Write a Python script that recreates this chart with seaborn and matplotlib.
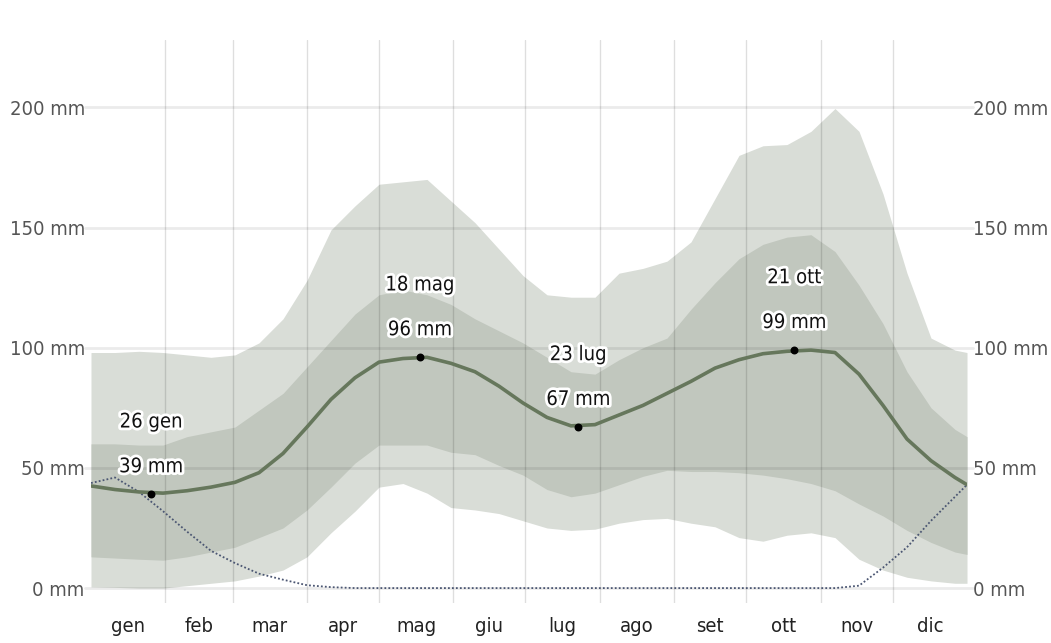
import numpy as np
import pandas as pd
import matplotlib
matplotlib.use("Agg")
import matplotlib.pyplot as plt
import matplotlib.patheffects as pe
from matplotlib import font_manager as fm
import seaborn as sns

# day of year for each reading
days = [0, 10, 20, 30, 40, 50, 60, 70, 80, 90, 100, 110, 120, 130, 140, 150, 160, 170, 180,
        190, 200, 210, 220, 230, 240, 250, 260, 270, 280, 290, 300, 310, 320, 330, 340, 350, 360, 365]

median_mm = [42.5, 41, 40, 39.5, 40.5, 42, 44, 48, 56, 67, 78.5, 87.5, 94, 95.5, 96, 93.5, 90, 84, 77,
             71, 67.5, 68, 72, 76, 81, 86, 91.5, 95, 97.5, 98.5, 99, 98, 89, 76, 62, 53, 46, 43]
p75_mm = [60, 60, 59.5, 59.5, 63, 65, 67, 74, 81, 92, 103, 114, 122, 124, 122, 118, 112, 107, 102,
          96, 90, 89, 95, 100, 104, 116, 127, 137, 143, 146, 147, 140, 126, 110, 90, 75, 66, 63]
p90_mm = [98, 98, 98.5, 98, 97, 96, 97, 102, 112, 128, 149, 159, 168, 169, 170, 161, 152, 141, 130,
          122, 121, 121, 131, 133, 136, 144, 162, 180, 184, 184.5, 190, 199.5, 190, 164, 131, 104, 99, 98]
p25_mm = [13, 12.5, 12, 11.6, 13, 15, 17, 21, 25, 32.5, 42, 52, 59.5, 59.5, 59.5, 56.5, 55.5, 51, 47,
          41, 38, 39.5, 43, 46.5, 49, 48.5, 48.5, 48, 47, 45.5, 43.5, 40.5, 35, 30, 24, 19, 15, 14]
p10_mm = [0.5, 0.3, 0, 0, 1, 2, 3, 5, 7.5, 13, 23, 32, 42, 43.5, 39.5, 33.5, 32.5, 31, 28,
          25, 24, 24.5, 27, 28.5, 29, 27, 25.5, 21, 19.5, 22, 23, 21, 12, 7.5, 4.5, 3, 2, 2]
snow_mm = [43.7, 46, 40, 32, 23.5, 15.5, 10.4, 6, 3.5, 1.2, 0.4, 0, 0, 0, 0, 0, 0, 0, 0,
           0, 0, 0, 0, 0, 0, 0, 0, 0, 0, 0, 0, 0, 1, 8.5, 17, 28, 38, 43]

# labelled extremes
peak_days = [25, 137, 203, 293]
peak_vals = [39, 96, 67, 99]
peak_dates = ["26 gen", "18 mag", "23 lug", "21 ott"]

month_starts = [0, 31, 59, 90, 120, 151, 181, 212, 243, 273, 304, 334, 365]
month_names = ["gen", "feb", "mar", "apr", "mag", "giu", "lug", "ago", "set", "ott", "nov", "dic"]
y_ticks = [0, 50, 100, 150, 200]

df = pd.DataFrame({"day": days, "median": median_mm, "p10": p10_mm, "p25": p25_mm,
                   "p75": p75_mm, "p90": p90_mm, "snow": snow_mm})

sns.set_style("white")

# the original uses a narrow sans, pick the narrowest regular face we have
def find_face(key):
    for f in fm.fontManager.ttflist:
        fn = f.fname.lower().replace("-", "").replace("_", "")
        if key in fn and "bold" not in fn and "oblique" not in fn and "italic" not in fn:
            return f
    return None

lib_narrow = find_face("liberationsansnarrow")
dv_cond = find_face("dejavusanscondensed")
if lib_narrow is not None:
    face, fsize = lib_narrow, 17.5
elif dv_cond is not None:
    face, fsize = dv_cond, 14.5
else:
    face, fsize = None, 14
if face is not None:
    plt.rcParams["font.family"] = [face.name, "DejaVu Sans"]
    plt.rcParams["font.stretch"] = face.stretch
else:
    plt.rcParams["font.family"] = ["Liberation Sans", "DejaVu Sans"]
lsp = 46 / (0.84 * fsize * 100 / 72)

fig = plt.figure(figsize=(10.51, 6.43), dpi=100)
ax = fig.add_axes([91 / 1051, 40 / 643, 876 / 1051, 563 / 643])

light = "#d9ddd7"
mid = "#c1c7be"
line_c = "#66775c"

ax.fill_between(df["day"], df["p10"], df["p90"], color=light, lw=0, zorder=1)
ax.fill_between(df["day"], df["p25"], df["p75"], color=mid, lw=0, zorder=2)

for v in y_ticks:
    ax.axhline(v, xmin=-0.007, xmax=1.007, color="k", alpha=0.08, lw=2, clip_on=False, zorder=3)
for d in month_starts[1:-1]:
    ax.axvline(d, color="k", alpha=0.13, lw=1, zorder=3)

sns.lineplot(data=df, x="day", y="snow", ax=ax, color="#4b5672", lw=1.3,
             linestyle=(0, (1, 1.2)), zorder=4)
sns.lineplot(data=df, x="day", y="median", ax=ax, color=line_c, lw=2.6, zorder=5,
             solid_joinstyle="round")
ax.scatter(peak_days, peak_vals, s=22, color="black", zorder=6)

for d, v, lab in zip(peak_days, peak_vals, peak_dates):
    ax.annotate(lab + "\n" + str(v) + " mm", xy=(d, v), xytext=(0, 13), textcoords="offset points",
                ha="center", va="bottom", fontsize=fsize, color="#111111", linespacing=lsp, zorder=7,
                path_effects=[pe.withStroke(linewidth=4, foreground="white")])

ax.set_xlim(0, 365)
ax.set_ylim(-6.2, 228)
ax.set_yticks(y_ticks)
ax.set_yticklabels([str(v) + " mm" for v in y_ticks])
ax.set_xticks(month_starts, minor=False)
ax.set_xticklabels([])
centers = [(a + b) / 2 for a, b in zip(month_starts[:-1], month_starts[1:])]
ax.set_xticks(centers, minor=True)
ax.set_xticklabels(month_names, minor=True)
ax.tick_params(axis="x", which="both", length=0)
ax.tick_params(axis="x", which="minor", labelsize=fsize, labelcolor="#222222", pad=10)
ax.tick_params(axis="y", length=0, labelsize=fsize, labelcolor="#555555", pad=4.5,
               labelleft=True, labelright=True)
ax.set_xlabel("")
ax.set_ylabel("")
for s in ax.spines.values():
    s.set_visible(False)
ax.grid(False)

plt.savefig("out.png", dpi=100)
